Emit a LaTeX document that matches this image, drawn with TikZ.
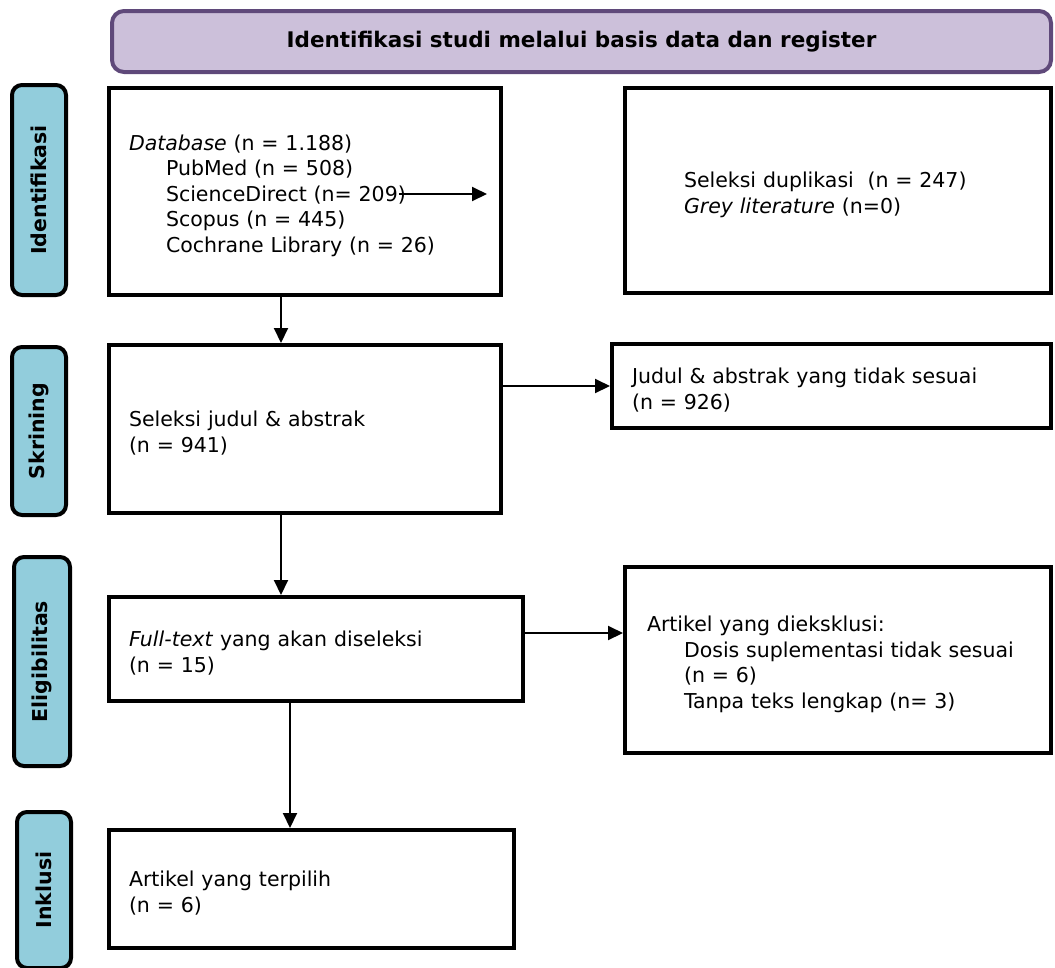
\documentclass[tikz,border=0pt]{standalone}
\usepackage{fontspec}
\setmainfont{DejaVu Sans}
\usetikzlibrary{arrows.meta}
\definecolor{headfill}{HTML}{CCC0DA}
\definecolor{headline}{HTML}{5F497A}
\definecolor{stagefill}{HTML}{92CDDC}
\newcommand{\ind}{\hspace*{37pt}}
\begin{document}
\begin{tikzpicture}[x=1pt,y=-1pt,
  font=\fontsize{20.5}{25.5}\selectfont,
  box/.style={draw,line width=4pt,rectangle,align=left,inner xsep=20pt,inner ysep=0pt,
    execute at begin node={\rule{0pt}{24pt}}},
  stage/.style={draw,line width=4pt,fill=stagefill,rounded corners=10pt,rotate=90,
    inner sep=0pt,font=\fontsize{20.5}{25.5}\selectfont\bfseries},
  arr/.style={line width=2pt,-{Triangle[length=15pt,width=14pt]}}]
\useasboundingbox (0,0) rectangle (1055,967);

% header
\node[draw=headline,line width=4pt,fill=headfill,rounded corners=12pt,
  minimum width=939pt,minimum height=61pt,font=\fontsize{21.5}{26}\selectfont\bfseries]
  (head) at (581.5,41.5) {Identifikasi studi melalui basis data dan register};

% stages
\node[stage,minimum width=210pt,minimum height=54pt] (stid) at (39,190) {Identifikasi};
\node[stage,minimum width=168pt,minimum height=54pt] (stsk) at (39,431) {Skrining};
\node[stage,minimum width=209pt,minimum height=56pt] (stel) at (42,661.5) {Eligibilitas};
\node[stage,minimum width=156pt,minimum height=54pt] (stin) at (44,890) {Inklusi};

% boxes
\node[box,text width=352pt,minimum height=207pt] (db) at (305,191.5)
  {\textit{Database} (n = 1.188)\\ \ind PubMed (n = 508)\\ \ind ScienceDirect (n= 209)\\
   \ind Scopus (n = 445)\\ \ind Cochrane Library (n = 26)};
\node[box,inner xsep=59pt,text width=308pt,minimum height=205pt] (dup) at (838,190.5)
  {Seleksi duplikasi~~(n = 247)\\ \textit{Grey literature} (n=0)};
\node[box,text width=352pt,minimum height=168pt] (screen) at (305,429)
  {Seleksi judul \& abstrak\\ (n = 941)};
\node[box,text width=399pt,minimum height=84pt] (excta) at (831.5,386)
  {Judul \& abstrak yang tidak sesuai\\ (n = 926)};
\node[box,text width=374pt,minimum height=104pt] (full) at (316,649)
  {\textit{Full-text} yang akan diseleksi\\ (n = 15)};
\node[box,inner xsep=22pt,text width=382pt,minimum height=186pt] (exft) at (838,660)
  {Artikel yang dieksklusi:\\ \ind\mbox{Dosis suplementasi tidak sesuai}\\ \ind (n = 6)\\
   \ind Tanpa teks lengkap (n= 3)};
\node[box,text width=365pt,minimum height=118pt] (incl) at (311.5,889)
  {Artikel yang terpilih\\ (n = 6)};

% arrows
\coordinate (dupa) at (399,194);
\coordinate (dupb) at (487,194);
\draw[arr] (dupa) -- (dupb);
\draw[arr] ([xshift=174pt]db.south west) -- ([xshift=174pt]screen.north west);
\draw[arr] (screen.east |- excta.west) -- (excta.west);
\draw[arr] ([xshift=174pt]screen.south west) -- ([xshift=174pt]full.north west);
\draw[arr] ([yshift=16pt]full.east) -- ([yshift=16pt]full.east -| exft.west);
\draw[arr] ([xshift=183pt]full.south west) -- ([xshift=183pt]incl.north west);
\end{tikzpicture}
\end{document}
